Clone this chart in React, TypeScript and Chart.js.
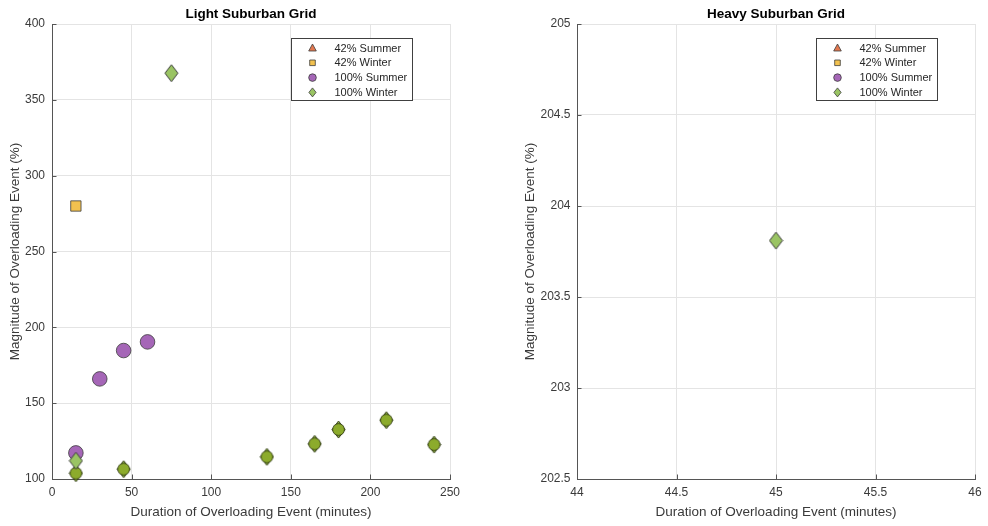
import React, { useEffect, useRef } from 'react';
import { Chart, registerables } from 'chart.js';
Chart.register(...registerables);

type Pt = { x: number; y: number };

const SERIES_NAMES = ['42% Summer', '42% Winter', '100% Summer', '100% Winter'];
const X_TITLE = 'Duration of Overloading Event (minutes)';
const Y_TITLE = 'Magnitude of Overloading Event (%)';

// ---- Light Suburban Grid ----
const LIGHT_TITLE = 'Light Suburban Grid';
const LIGHT_X_TICKS = [0, 50, 100, 150, 200, 250];
const LIGHT_Y_TICKS = [100, 150, 200, 250, 300, 350, 400];
const lightSummer42: Pt[] = [];
const lightWinter42: Pt[] = [{ x: 15, y: 280 }];
const lightSummer100: Pt[] = [
  { x: 15, y: 117.2 },
  { x: 30, y: 166 },
  { x: 45, y: 184.7 },
  { x: 60, y: 190.4 },
];
const lightWinter100: Pt[] = [
  { x: 15, y: 112 },
  { x: 75, y: 367.6 },
];
// 100% Winter events that coincide with other scenarios (drawn darker)
const lightWinter100Shared: Pt[] = [
  { x: 15, y: 103.8 },
  { x: 45, y: 106.5 },
  { x: 135, y: 114.6 },
  { x: 165, y: 123.2 },
  { x: 180, y: 132.6 },
  { x: 210, y: 138.8 },
  { x: 240, y: 122.7 },
];

// ---- Heavy Suburban Grid ----
const HEAVY_TITLE = 'Heavy Suburban Grid';
const HEAVY_X_TICKS = [44, 44.5, 45, 45.5, 46];
const HEAVY_Y_TICKS = [202.5, 203, 203.5, 204, 204.5, 205];
const heavySummer42: Pt[] = [];
const heavyWinter42: Pt[] = [];
const heavySummer100: Pt[] = [];
const heavyWinter100: Pt[] = [{ x: 45, y: 203.81 }];
const heavyWinter100Shared: Pt[] = [];

const FONT = '"Liberation Sans", Arial, Helvetica, sans-serif';
const AXIS = '#555555';
const GRID = '#e4e4e4';
const TEXT = '#3a3a3a';
const EDGE = '#3c3c3c';
const C_SUM42 = '#E3784F';
const C_WIN42 = '#F2C14F';
const C_SUM100 = '#A566B7';
const C_WIN100 = '#9AC463';
const C_SHARED = '#8CAB2C';

function diamondImage(fill: string, stroke: string, w: number, h: number, inner?: string) {
  const c = document.createElement('canvas');
  c.width = w + 2;
  c.height = h + 2;
  const g = c.getContext('2d')!;
  const cx = c.width / 2;
  const cy = c.height / 2;
  g.beginPath();
  g.moveTo(cx, 1);
  g.lineTo(c.width - 1, cy);
  g.lineTo(cx, c.height - 1);
  g.lineTo(1, cy);
  g.closePath();
  g.fillStyle = fill;
  g.fill();
  g.lineWidth = 1;
  g.strokeStyle = stroke;
  g.stroke();
  if (inner) {
    g.beginPath();
    g.arc(cx, cy, w / 2 - 0.6, 0, Math.PI * 2);
    g.fillStyle = inner;
    g.fill();
    g.strokeStyle = 'rgba(25,32,8,0.7)';
    g.stroke();
  }
  return c;
}

function drawLegendMarker(ctx: CanvasRenderingContext2D, i: number, x: number, y: number) {
  ctx.beginPath();
  if (i === 0) {
    ctx.moveTo(x, y - 4);
    ctx.lineTo(x + 3.8, y + 3);
    ctx.lineTo(x - 3.8, y + 3);
    ctx.closePath();
    ctx.fillStyle = C_SUM42;
  } else if (i === 1) {
    ctx.rect(x - 2.8, y - 2.8, 5.6, 5.6);
    ctx.fillStyle = C_WIN42;
  } else if (i === 2) {
    ctx.arc(x, y, 3.8, 0, Math.PI * 2);
    ctx.fillStyle = C_SUM100;
  } else {
    ctx.moveTo(x, y - 4.5);
    ctx.lineTo(x + 3.6, y);
    ctx.lineTo(x, y + 4.5);
    ctx.lineTo(x - 3.6, y);
    ctx.closePath();
    ctx.fillStyle = C_WIN100;
  }
  ctx.fill();
  ctx.lineWidth = 0.8;
  ctx.strokeStyle = EDGE;
  ctx.stroke();
}

function decorPlugin(title: string) {
  return {
    id: 'decor',
    afterDraw(chart: any) {
      const { ctx, chartArea: ca, scales } = chart;
      ctx.save();
      // inward ticks
      ctx.strokeStyle = AXIS;
      ctx.lineWidth = 1;
      scales.x.ticks.forEach((t: any) => {
        const px = Math.round(scales.x.getPixelForValue(t.value)) + 0.5;
        ctx.beginPath();
        ctx.moveTo(px, ca.bottom);
        ctx.lineTo(px, ca.bottom - 4.5);
        ctx.stroke();
      });
      scales.y.ticks.forEach((t: any) => {
        const py = Math.round(scales.y.getPixelForValue(t.value)) + 0.5;
        ctx.beginPath();
        ctx.moveTo(ca.left, py);
        ctx.lineTo(ca.left + 4.5, py);
        ctx.stroke();
      });
      // title
      ctx.font = `bold 13.5px ${FONT}`;
      ctx.fillStyle = '#000';
      ctx.textAlign = 'center';
      ctx.textBaseline = 'middle';
      ctx.fillText(title, (ca.left + ca.right) / 2, 14);
      // legend
      const bw = 121;
      const bh = 62;
      const bx = Math.round(ca.right - 38 - bw) + 0.5;
      const by = Math.round(ca.top + 14) + 0.5;
      ctx.fillStyle = '#fff';
      ctx.fillRect(bx, by, bw, bh);
      ctx.strokeStyle = '#404040';
      ctx.lineWidth = 1;
      ctx.strokeRect(bx, by, bw, bh);
      ctx.font = `11px ${FONT}`;
      ctx.textAlign = 'left';
      SERIES_NAMES.forEach((name, i) => {
        const ry = by + 9.5 + i * 14.8;
        drawLegendMarker(ctx, i, bx + 21, ry);
        ctx.fillStyle = '#262626';
        ctx.fillText(name, bx + 43, ry + 0.5);
      });
      ctx.restore();
    },
  };
}

type PanelProps = {
  left: number;
  width: number;
  title: string;
  xTicks: number[];
  yTicks: number[];
  summer42: Pt[];
  winter42: Pt[];
  summer100: Pt[];
  winter100: Pt[];
  winter100Shared: Pt[];
  yAxisWidth: number;
  padRight: number;
  yTitlePad: number;
  yTickPad: number;
};

function Panel(p: PanelProps) {
  const ref = useRef<HTMLCanvasElement>(null);
  useEffect(() => {
    const lightDiamond = diamondImage(C_WIN100, EDGE, 13, 17);
    const sharedDiamond = diamondImage('#93B447', '#2e3912', 13, 17, C_SHARED);
    const tickFont = { family: FONT, size: 12 };
    const titleFont = { family: FONT, size: 13.5 };
    const chart = new Chart(ref.current!, {
      type: 'scatter',
      data: {
        datasets: [
          {
            label: SERIES_NAMES[3],
            data: p.winter100,
            pointStyle: lightDiamond as any,
            pointRadius: 8,
            order: 0,
            clip: false as any,
          },
          {
            label: SERIES_NAMES[3] + ' shared',
            data: p.winter100Shared,
            pointStyle: sharedDiamond as any,
            pointRadius: 8,
            order: 1,
            clip: false as any,
          },
          {
            label: SERIES_NAMES[2],
            data: p.summer100,
            pointStyle: 'circle',
            pointRadius: 7.3,
            backgroundColor: C_SUM100,
            borderColor: EDGE,
            borderWidth: 0.8,
            order: 2,
            clip: false as any,
          },
          {
            label: SERIES_NAMES[1],
            data: p.winter42,
            pointStyle: 'rect',
            pointRadius: 7.3,
            backgroundColor: C_WIN42,
            borderColor: EDGE,
            borderWidth: 0.8,
            order: 3,
            clip: false as any,
          },
          {
            label: SERIES_NAMES[0],
            data: p.summer42,
            pointStyle: 'triangle',
            pointRadius: 7,
            backgroundColor: C_SUM42,
            borderColor: EDGE,
            borderWidth: 0.8,
            order: 4,
            clip: false as any,
          },
        ],
      },
      options: {
        animation: false,
        responsive: false,
        devicePixelRatio: 1,
        events: [],
        layout: { padding: { left: 0, right: p.padRight, top: 24, bottom: 0 } },
        plugins: { legend: { display: false }, tooltip: { enabled: false }, title: { display: false } },
        scales: {
          x: {
            type: 'linear',
            min: p.xTicks[0],
            max: p.xTicks[p.xTicks.length - 1],
            afterBuildTicks: (axis: any) => {
              axis.ticks = p.xTicks.map((v) => ({ value: v }));
            },
            afterFit: (axis: any) => {
              axis.height = 47;
            },
            grid: { color: GRID, drawTicks: false, lineWidth: 1 },
            border: { display: true, color: AXIS, width: 1 },
            ticks: {
              padding: 6,
              color: TEXT,
              font: tickFont,
              maxRotation: 0,
              autoSkip: false,
              callback: (v: any) => String(v),
            },
            title: {
              display: true,
              text: X_TITLE,
              color: TEXT,
              font: titleFont,
              padding: { top: 0, bottom: 6 },
            },
          },
          y: {
            type: 'linear',
            min: p.yTicks[0],
            max: p.yTicks[p.yTicks.length - 1],
            afterBuildTicks: (axis: any) => {
              axis.ticks = p.yTicks.map((v) => ({ value: v }));
            },
            afterFit: (axis: any) => {
              axis.width = p.yAxisWidth;
            },
            grid: { color: GRID, drawTicks: false, lineWidth: 1 },
            border: { display: true, color: AXIS, width: 1 },
            ticks: {
              padding: p.yTickPad,
              color: TEXT,
              font: tickFont,
              autoSkip: false,
              callback: (v: any) => String(v),
            },
            title: {
              display: true,
              text: Y_TITLE,
              color: TEXT,
              font: titleFont,
              padding: { top: p.yTitlePad, bottom: 0 },
            },
          },
        },
      },
      plugins: [decorPlugin(p.title) as any],
    });
    return () => chart.destroy();
  }, []);
  return (
    <canvas
      ref={ref}
      width={p.width}
      height={526}
      style={{ position: 'absolute', left: p.left, top: 0, width: p.width, height: 526 }}
    />
  );
}

export default function App() {
  return (
    <div
      style={{
        position: 'fixed',
        left: 0,
        top: 0,
        width: 988,
        height: 526,
        background: '#ffffff',
        overflow: 'hidden',
      }}
    >
      <Panel
        left={0}
        width={490}
        title={LIGHT_TITLE}
        xTicks={LIGHT_X_TICKS}
        yTicks={LIGHT_Y_TICKS}
        summer42={lightSummer42}
        winter42={lightWinter42}
        summer100={lightSummer100}
        winter100={lightWinter100}
        winter100Shared={lightWinter100Shared}
        yAxisWidth={52}
        padRight={40}
        yTitlePad={7}
        yTickPad={7}
      />
      <Panel
        left={490}
        width={498}
        title={HEAVY_TITLE}
        xTicks={HEAVY_X_TICKS}
        yTicks={HEAVY_Y_TICKS}
        summer42={heavySummer42}
        winter42={heavyWinter42}
        summer100={heavySummer100}
        winter100={heavyWinter100}
        winter100Shared={heavyWinter100Shared}
        yAxisWidth={87}
        padRight={13}
        yTitlePad={32}
        yTickPad={6.5}
      />
    </div>
  );
}
